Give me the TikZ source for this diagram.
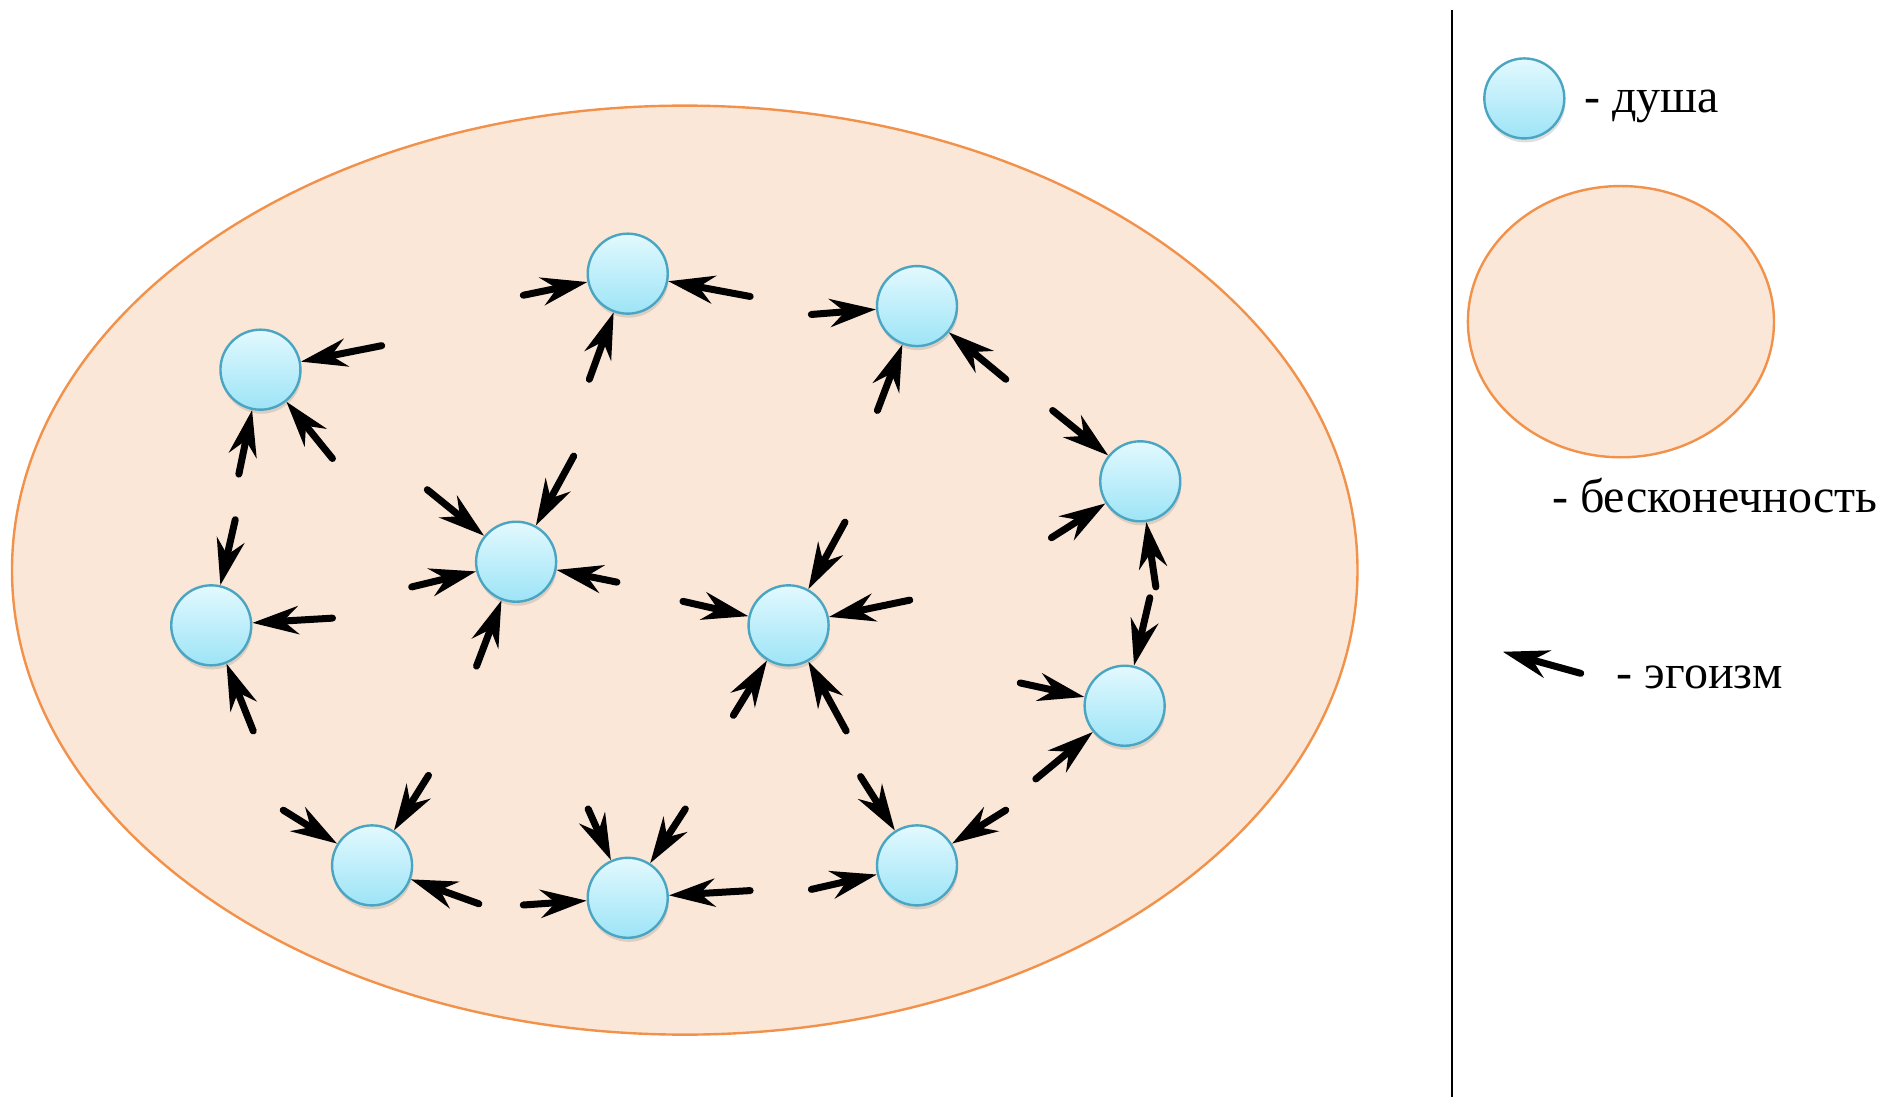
\documentclass[tikz,border=0pt]{standalone}
\usepackage{fontspec}
\setmainfont{Liberation Serif}
\newfontfamily\legendfont{Liberation Serif}
\usetikzlibrary{arrows.meta,shadows}

\definecolor{infline}{HTML}{F2914A}
\definecolor{inffill}{HTML}{FBE7D8}
\definecolor{soulline}{HTML}{4AA5C2}
\definecolor{soultop}{HTML}{E2F9FE}
\definecolor{soulbot}{HTML}{9DE4F7}

\tikzset{
  soul/.style={circle, minimum size=80pt, inner sep=0pt, draw=soulline, line width=2.4pt,
    top color=soultop, bottom color=soulbot,
    drop shadow={opacity=0.25, shadow xshift=1pt, shadow yshift=-4pt}},
  ego/.style={line width=7pt, line cap=round, -{Stealth[length=46pt,width=28pt,inset=15pt]}},
  inf/.style={draw=infline, fill=inffill, line width=2.4pt},
  legend/.style={anchor=base west, inner sep=0pt, font=\legendfont\fontsize{48}{52}\selectfont}
}

\begin{document}
\begin{tikzpicture}[x=1.2pt, y=-1.2pt]
\useasboundingbox (0,0) rectangle (1568,914);

% infinity
\draw[inf] (570.5,475) ellipse [x radius=672.6pt, y radius=464.4pt];

% souls
\foreach \n/\x/\y in {1/217/308, 2/523/228, 3/764/255, 4/950/401, 5/176/521, 6/430/468,
                      7/657/521, 8/937/588, 9/310/721, 10/523/748, 11/764/721}
  {\node[soul] (s\n) at (\x,\y) {};}

% egoism
\foreach \n/\dx/\dy in {1/101/-20, 1/60/74, 1/-18/87,
                        2/-87/18, 2/-32/88, 2/102/19,
                        3/-88/7, 3/-33/87, 3/74/61,
                        4/-73/-59, 4/-74/47, 4/13/88,
                        5/20/-88, 5/101/-6, 5/35/88,
                        6/-74/-60, 6/48/-88, 6/-87/21, 6/84/17, 6/-33/87,
                        7/47/-86, 7/-88/-20, 7/101/-21, 7/-46/75, 7/48/88,
                        8/21/-90, 8/-87/-19, 8/-74/61,
                        9/-74/-46, 9/47/-75, 9/89/32,
                        10/-87/6, 10/-33/-74, 10/48/-74, 10/102/-6,
                        11/-47/-74, 11/-88/20, 11/74/-46}
  {\path (s\n) ++(\dx,\dy) coordinate (e);
   \draw[ego] (e) -- (s\n);}

% legend
\draw[line width=2pt] (1210,8) -- (1210,914);
\node[soul] (legsoul) at (1270,82) {};
\node[legend] (soultext) at (1320,94) {- душа};
\draw[inf] (1350.5,268) ellipse [x radius=153pt, y radius=135.6pt];
\node[legend] (inftext) at (1293,427) {- бесконечность};
\coordinate (egostart) at (1317,561);
\coordinate (egoend) at (1252,543);
\draw[ego] (egostart) -- (egoend);
\node[legend] (egotext) at (1347,574) {- эгоизм};

\end{tikzpicture}
\end{document}
